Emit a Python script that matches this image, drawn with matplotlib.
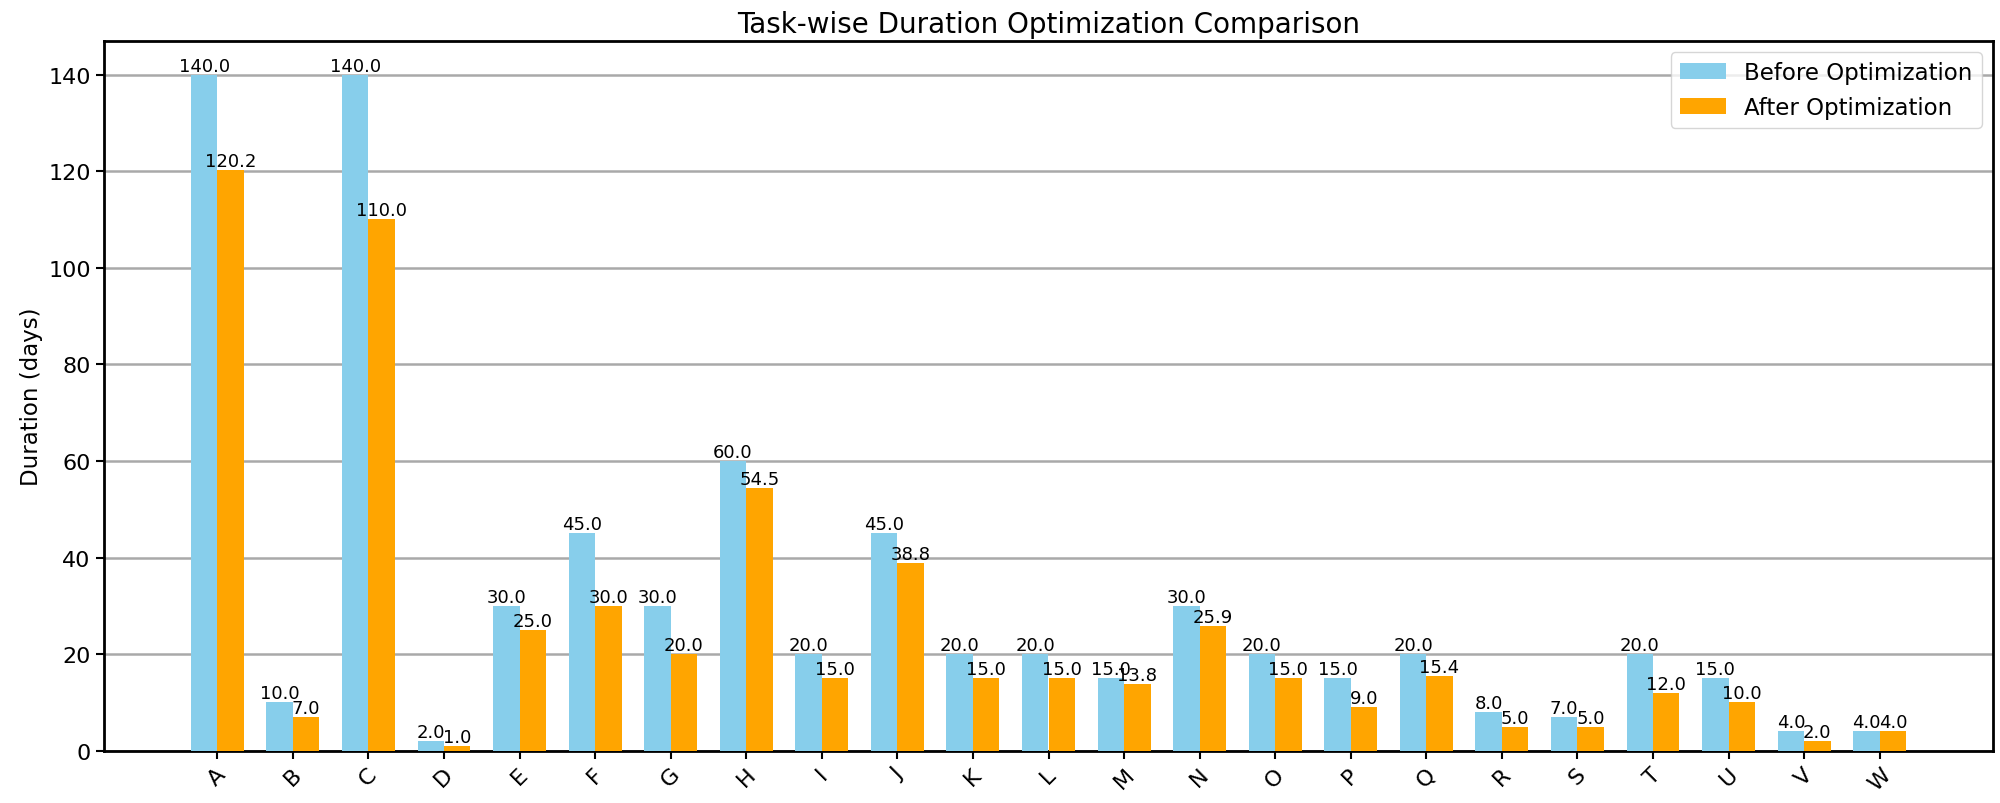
import numpy as np
import matplotlib.pyplot as plt

tasks = list("ABCDEFGHIJKLMNOPQRSTUVW")
before = [140.0, 10.0, 140.0, 2.0, 30.0, 45.0, 30.0, 60.0, 20.0, 45.0, 20.0, 20.0,
          15.0, 30.0, 20.0, 15.0, 20.0, 8.0, 7.0, 20.0, 15.0, 4.0, 4.0]
after = [120.2, 7.0, 110.0, 1.0, 25.0, 30.0, 20.0, 54.5, 15.0, 38.8, 15.0, 15.0,
         13.8, 25.9, 15.0, 9.0, 15.4, 5.0, 5.0, 12.0, 10.0, 2.0, 4.0]

x = np.arange(len(tasks))
width = 0.35

fig, ax = plt.subplots(figsize=(20, 8.04), dpi=100)
b1 = ax.bar(x - width / 2, before, width, color='skyblue', label='Before Optimization', zorder=3)
b2 = ax.bar(x + width / 2, after, width, color='orange', label='After Optimization', zorder=3)

# value labels on top of each bar
for bars in (b1, b2):
    for bar in bars:
        h = bar.get_height()
        ax.text(bar.get_x() + bar.get_width() / 2, h, f'{h:.1f}',
                ha='center', va='bottom', fontsize=13)

ax.set_xticks(x)
ax.set_xticklabels(tasks, rotation=45, fontsize=16)
ax.tick_params(axis='y', labelsize=16)
ax.tick_params(length=6, width=1.5)
ax.set_ylabel('Duration (days)', fontsize=16.5)
ax.set_title('Task-wise Duration Optimization Comparison', fontsize=20)
ax.set_xlim(-1.5, 23.5)
ax.yaxis.grid(True, color='darkgray', linewidth=1.8, zorder=0)
ax.set_axisbelow(True)
for s in ax.spines.values():
    s.set_linewidth(2)
ax.legend(fontsize=16.5)

plt.subplots_adjust(left=0.052, right=0.9965, top=0.948, bottom=0.065)
plt.savefig('out.png')
